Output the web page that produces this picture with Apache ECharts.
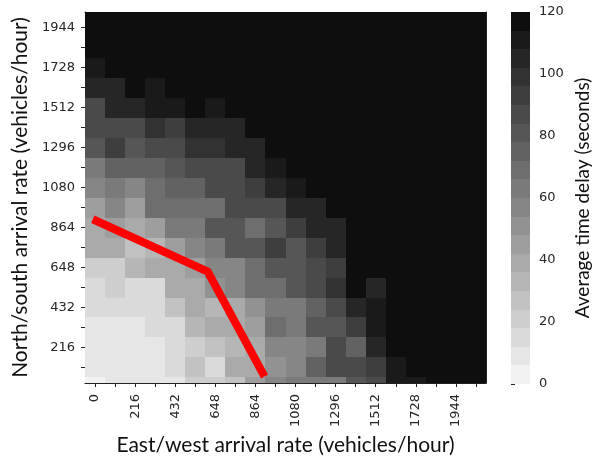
<!DOCTYPE html>
<html>
<head>
<meta charset="utf-8">
<script src="https://cdn.jsdelivr.net/npm/echarts@6/dist/echarts.min.js"></script>
<style>
  html, body { margin: 0; background: #fff; }
  #chart { width: 597px; height: 464px; }
</style>
</head>
<body>
<div id="chart"></div>
<script>
// arrival rates (cell centres), vehicles/hour
const ewRates = [0, 108, 216, 324, 432, 540, 648, 756, 864, 972, 1080, 1188, 1296, 1404, 1512, 1620, 1728, 1836, 1944, 2052];
const nsRates = [0, 108, 216, 324, 432, 540, 648, 756, 864, 972, 1080, 1188, 1296, 1404, 1512, 1620, 1728, 1836, 1944, 2052];

// average delay (seconds), one row per north/south rate, bottom row first
const delayRows = [
  [4, 8, 8, 8, 8, 18, 20, 28, 44, 54, 60, 62, 62, 78, 87, 109, 110, 117, 117, 117],
  [8, 8, 8, 8, 14, 26, 16, 40, 40, 52, 58, 75, 86, 87, 94, 109, 117, 117, 117, 117],
  [8, 8, 8, 8, 14, 18, 26, 34, 40, 56, 55, 64, 86, 77, 104, 117, 117, 117, 117, 117],
  [8, 8, 8, 14, 14, 35, 40, 40, 47, 70, 63, 79, 79, 90, 110, 117, 117, 117, 117, 117],
  [14, 14, 14, 16, 24, 38, 31, 36, 53, 61, 63, 72, 86, 105, 110, 117, 117, 117, 117, 117],
  [14, 22, 14, 17, 41, 41, 49, 54, 71, 71, 78, 86, 100, 117, 104, 117, 117, 117, 117, 117],
  [20, 20, 30, 36, 40, 44, 54, 56, 71, 79, 79, 86, 93, 117, 117, 117, 117, 117, 117, 117],
  [36, 36, 28, 30, 47, 54, 64, 78, 78, 92, 80, 94, 105, 117, 117, 117, 117, 117, 117, 117],
  [40, 44, 40, 47, 63, 63, 78, 78, 70, 80, 94, 104, 104, 117, 117, 117, 117, 117, 117, 117],
  [47, 55, 47, 70, 70, 70, 68, 86, 88, 88, 105, 105, 117, 117, 117, 117, 117, 117, 117, 117],
  [56, 64, 54, 70, 74, 74, 86, 86, 92, 105, 110, 117, 117, 117, 117, 117, 117, 117, 117, 117],
  [63, 75, 75, 75, 79, 85, 85, 85, 104, 108, 117, 117, 117, 117, 117, 117, 117, 117, 117, 117],
  [79, 91, 81, 87, 87, 97, 97, 103, 103, 117, 117, 117, 117, 117, 117, 117, 117, 117, 117, 117],
  [88, 88, 88, 100, 90, 107, 107, 104, 117, 117, 117, 117, 117, 117, 117, 117, 117, 117, 117, 117],
  [87, 105, 105, 109, 109, 117, 110, 117, 117, 117, 117, 117, 117, 117, 117, 117, 117, 117, 117, 117],
  [104, 104, 117, 111, 117, 117, 117, 117, 117, 117, 117, 117, 117, 117, 117, 117, 117, 117, 117, 117],
  [110, 117, 117, 117, 117, 117, 117, 117, 117, 117, 117, 117, 117, 117, 117, 117, 117, 117, 117, 117],
  [117, 117, 117, 117, 117, 117, 117, 117, 117, 117, 117, 117, 117, 117, 117, 117, 117, 117, 117, 117],
  [117, 117, 117, 117, 117, 117, 117, 117, 117, 117, 117, 117, 117, 117, 117, 117, 117, 117, 117, 117],
  [117, 117, 117, 117, 117, 117, 117, 117, 117, 117, 117, 117, 117, 117, 117, 117, 117, 117, 117, 117]
];

// red boundary line [ew, ns]
const boundary = [[-12, 909], [607, 626], [913, 59]];

const xTicks = [0, 108, 216, 324, 432, 540, 648, 756, 864, 972, 1080, 1188, 1296, 1404, 1512, 1620, 1728, 1836, 1944, 2052];
const xLabels = [0, 216, 432, 648, 864, 1080, 1296, 1512, 1728, 1944];
const yTicks = [108, 216, 324, 432, 540, 648, 756, 864, 972, 1080, 1188, 1296, 1404, 1512, 1620, 1728, 1836, 1944];
const yLabels = [216, 432, 648, 864, 1080, 1296, 1512, 1728, 1944];

// colour bar: 20 steps of 6 s
const delayBreaks = [0, 6, 12, 18, 24, 30, 36, 42, 48, 54, 60, 66, 72, 78, 84, 90, 96, 102, 108, 114, 120];
const greys = ['#f2f2f2', '#e6e6e6', '#dadada', '#cecece', '#c2c2c2', '#b6b6b6', '#aaaaaa', '#9e9e9e', '#929292', '#868686',
               '#7a7a7a', '#6e6e6e', '#626262', '#565656', '#4a4a4a', '#3e3e3e', '#323232', '#262626', '#1a1a1a', '#0e0e0e'];

const step = 108;
const plain = v => String(v);
const tickFont = { fontFamily: 'DejaVu Sans', fontSize: 13, color: '#262626', formatter: plain };
const titleFont = { fontFamily: 'Lato', fontSize: 21, color: '#111' };

const cells = [];
delayRows.forEach((row, j) => row.forEach((v, i) => cells.push([ewRates[i], nsRates[j], v])));

const pieces = greys.map((c, k) => k === greys.length - 1
  ? { gte: delayBreaks[k], lte: delayBreaks[k + 1], color: c }
  : { gte: delayBreaks[k], lt: delayBreaks[k + 1], color: c });

const barSteps = greys.map((c, k) => [delayBreaks[k], delayBreaks[k + 1], (delayBreaks[k] + delayBreaks[k + 1]) / 2]);

// snap edges to whole pixels so neighbouring cells tile exactly
function pixelRect(a, b) {
  const x0 = Math.round(Math.min(a[0], b[0])), x1 = Math.round(Math.max(a[0], b[0]));
  const y0 = Math.round(Math.min(a[1], b[1])), y1 = Math.round(Math.max(a[1], b[1]));
  return { x: x0, y: y0, width: x1 - x0, height: y1 - y0 };
}

function cellItem(params, api) {
  const half = step / 2;
  const p0 = api.coord([api.value(0) - half, api.value(1) + half]);
  const p1 = api.coord([api.value(0) + half, api.value(1) - half]);
  const cs = params.coordSys;
  const shape = echarts.graphic.clipRectByRect(pixelRect(p0, p1),
    { x: cs.x, y: cs.y, width: cs.width, height: cs.height });
  return shape && { type: 'rect', shape: shape, style: { fill: api.visual('color') } };
}

function barItem(params, api) {
  const p0 = api.coord([0, api.value(1)]);
  const p1 = api.coord([1, api.value(0)]);
  return { type: 'rect', shape: pixelRect(p0, p1), style: { fill: api.visual('color') } };
}

const chart = echarts.init(document.getElementById('chart'));

const frameLine = { show: true, onZero: false, lineStyle: { color: '#222', width: 1 } };

chart.setOption({
  backgroundColor: '#fff',
  animation: false,
  grid: [
    { left: 85, top: 12, width: 401, height: 371 },
    { left: 511, top: 12, width: 19, height: 372 }
  ],
  visualMap: { type: 'piecewise', show: false, dimension: 2, seriesIndex: [0, 2], pieces: pieces },
  xAxis: [
    {
      gridIndex: 0, type: 'value', position: 'bottom', min: -54, max: 2106,
      axisLine: frameLine,
      axisTick: { customValues: xTicks, length: 4, lineStyle: { color: '#222' } },
      axisLabel: Object.assign({ customValues: xLabels, rotate: 90, margin: 11 }, tickFont),
      splitLine: { show: false },
      name: 'East/west arrival rate (vehicles/hour)', nameLocation: 'middle', nameGap: 48,
      nameTextStyle: titleFont
    },
    {
      gridIndex: 0, type: 'value', position: 'top', min: -54, max: 2106,
      axisLine: frameLine, axisTick: { show: false }, axisLabel: { show: false }, splitLine: { show: false }
    },
    { gridIndex: 1, type: 'value', min: 0, max: 1, show: false }
  ],
  yAxis: [
    {
      gridIndex: 0, type: 'value', position: 'left', min: 24, max: 2029,
      axisLine: frameLine,
      axisTick: { customValues: yTicks, length: 4, lineStyle: { color: '#222' } },
      axisLabel: Object.assign({ customValues: yLabels, margin: 10 }, tickFont),
      splitLine: { show: false },
      name: 'North/south arrival rate (vehicles/hour)', nameLocation: 'middle', nameGap: 47,
      nameTextStyle: titleFont
    },
    {
      gridIndex: 0, type: 'value', position: 'right', min: 24, max: 2029,
      axisLine: frameLine, axisTick: { show: false }, axisLabel: { show: false }, splitLine: { show: false }
    },
    {
      gridIndex: 1, type: 'value', position: 'right', min: 0, max: 120, interval: 20,
      axisLine: { show: false },
      axisTick: { show: true, length: 4, lineStyle: { color: '#222' } },
      axisLabel: Object.assign({ margin: 9 }, tickFont),
      splitLine: { show: false },
      name: 'Average time delay (seconds)', nameLocation: 'middle', nameGap: 43,
      nameTextStyle: Object.assign({}, titleFont, { fontSize: 19 })
    }
  ],
  series: [
    {
      type: 'custom', xAxisIndex: 0, yAxisIndex: 0, renderItem: cellItem, data: cells, z: 1
    },
    {
      type: 'line', xAxisIndex: 0, yAxisIndex: 0, data: boundary, symbol: 'none', z: 5,
      lineStyle: { color: '#ff0000', width: 8, cap: 'butt', join: 'miter' }
    },
    {
      type: 'custom', xAxisIndex: 2, yAxisIndex: 2, renderItem: barItem, data: barSteps, z: 1
    }
  ]
});
</script>
</body>
</html>
